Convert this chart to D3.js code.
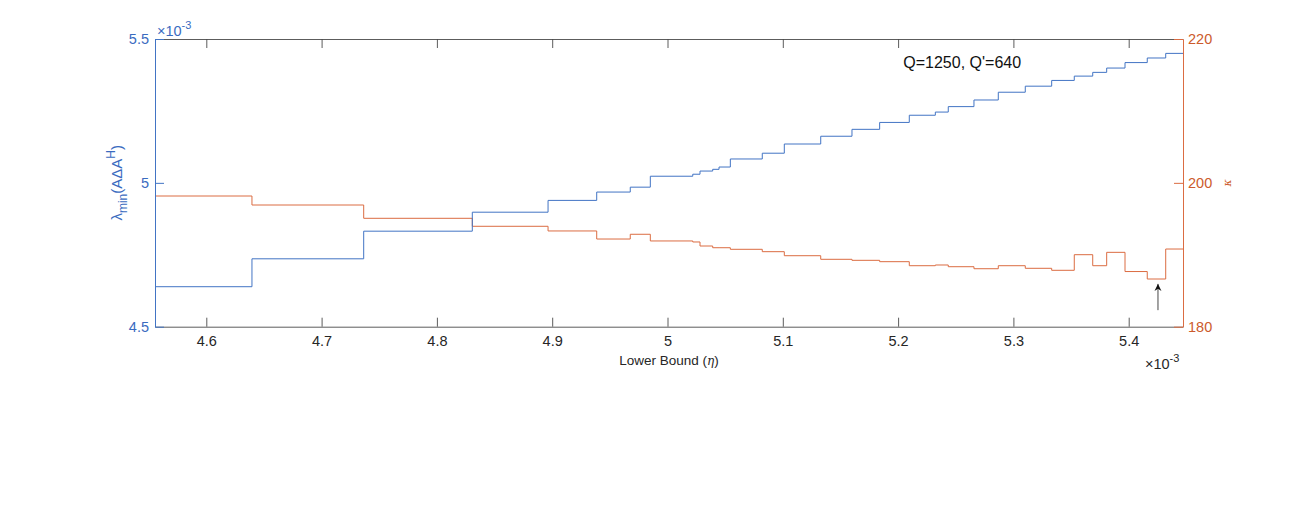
<!DOCTYPE html>
<html><head><meta charset="utf-8">
<script src="https://cdn.jsdelivr.net/npm/d3@7"></script>
<style>
html,body{margin:0;padding:0;background:#fff;}
svg{display:block;font-family:"Liberation Sans",Arial,Helvetica,sans-serif;}
</style></head>
<body><svg id="c" width="1295" height="510"></svg>
<script>
// ---- data (η in units of 1e-3) ----
const edges = [4.5555,4.6396,4.7365,4.8307,4.8964,4.9386,4.9677,4.9851,5.0219,5.0282,5.0392,5.0447,5.0545,5.0822,5.1013,5.1329,5.1600,5.1840,5.2097,5.2323,5.2435,5.2658,5.2869,5.3103,5.3332,5.3528,5.3688,5.3809,5.3968,5.4161,5.4321,5.4471];
const lambdaMin = [4.639,4.736,4.832,4.898,4.939,4.968,4.985,5.023,5.030,5.041,5.047,5.055,5.083,5.103,5.135,5.162,5.186,5.210,5.235,5.246,5.265,5.288,5.315,5.336,5.356,5.371,5.384,5.399,5.418,5.434,5.450];
const kappa = [198.17,196.92,195.07,193.96,193.31,192.19,192.85,191.92,191.78,191.22,190.98,190.98,190.76,190.43,189.87,189.37,189.23,189.04,188.48,188.58,188.34,188.06,188.48,188.12,187.84,190.01,188.48,190.34,187.67,186.63,190.80];
const xTicks = [4.6,4.7,4.8,4.9,5.0,5.1,5.2,5.3,5.4];
const xTickLabels = ["4.6","4.7","4.8","4.9","5","5.1","5.2","5.3","5.4"];
const yLeftTicks = [4.5,5.0,5.5];
const yLeftTickLabels = ["4.5","5","5.5"];
const yRightTicks = [180,200,220];
const yRightTickLabels = ["180","200","220"];
const annotationText = "Q=1250, Q'=640";
const arrowEta = [5.4254,5.4254];
const arrowKappa = [182.3,185.95];

// ---- layout ----
const W=1295,H=510;
const m={l:155,r:112,t:39,b:183.3};
const x0=m.l,x1=W-m.r,y0=m.t,y1=H-m.b;
const blue="#4274c4", blueText="#3a6bbf";
const orange="#db6c42", orangeText="#cc5b2c";
const axisGray="#4a4a4a";

const svg=d3.select("#c");
const x=d3.scaleLinear().domain([4.5555,5.4471]).range([x0,x1]);
const yL=d3.scaleLinear().domain([4.5,5.5]).range([y1,y0]);
const yR=d3.scaleLinear().domain([180,220]).range([y1,y0]);

function stairs(vals){
  const pts=vals.map((v,i)=>[edges[i],v]);
  pts.push([edges[edges.length-1],vals[vals.length-1]]);
  return pts;
}

// lines
svg.append("path").datum(stairs(kappa))
  .attr("fill","none").attr("stroke",orange).attr("stroke-width",1)
  .attr("d",d3.line().x(d=>x(d[0])).y(d=>yR(d[1])).curve(d3.curveStepAfter));
svg.append("path").datum(stairs(lambdaMin))
  .attr("fill","none").attr("stroke",blue).attr("stroke-width",1)
  .attr("d",d3.line().x(d=>x(d[0])).y(d=>yL(d[1])).curve(d3.curveStepAfter));

// axes
const fs=14.5;
const ff="Liberation Sans, Arial, sans-serif";
const xb=svg.append("g").attr("transform",`translate(0,${y1})`)
  .call(d3.axisBottom(x).tickValues(xTicks).tickSizeInner(-9).tickSizeOuter(0).tickPadding(9).tickFormat((d,i)=>xTickLabels[i]));
const xt=svg.append("g").attr("transform",`translate(0,${y0})`)
  .call(d3.axisTop(x).tickValues(xTicks).tickSizeInner(-9).tickSizeOuter(0).tickFormat(""));
[xb,xt].forEach(g=>{g.select(".domain").attr("stroke",axisGray).attr("stroke-width",0.9);
  g.selectAll(".tick line").attr("stroke",axisGray).attr("stroke-width",0.9);});
xb.selectAll(".tick text").attr("font-size",fs).attr("fill","#262626").attr("font-family",ff);

const yl=svg.append("g").attr("transform",`translate(${x0},0)`)
  .call(d3.axisLeft(yL).tickValues(yLeftTicks).tickSizeInner(-9).tickSizeOuter(0).tickPadding(6).tickFormat((d,i)=>yLeftTickLabels[i]));
yl.select(".domain").attr("stroke",blue).attr("stroke-width",1);
yl.selectAll(".tick line").attr("stroke",blue);
yl.selectAll(".tick text").attr("font-size",fs).attr("fill",blueText).attr("font-family",ff);

const yr=svg.append("g").attr("transform",`translate(${x1},0)`)
  .call(d3.axisRight(yR).tickValues(yRightTicks).tickSizeInner(-9).tickSizeOuter(0).tickPadding(5).tickFormat((d,i)=>yRightTickLabels[i]));
yr.select(".domain").attr("stroke",orange).attr("stroke-width",1);
yr.selectAll(".tick line").attr("stroke",orange);
yr.selectAll(".tick text").attr("font-size",fs).attr("fill",orangeText).attr("font-family",ff);

// exponent labels
function expLabel(px,py,color){
  const t=svg.append("text").attr("x",px).attr("y",py).attr("font-size",14.5).attr("fill",color);
  t.append("tspan").text("\u00d710");
  t.append("tspan").attr("dy",-7).attr("font-size",11).text("-3");
}
expLabel(x0+2,y0-3,blueText);
expLabel(x1-38,y1+42,"#262626");

// axis labels
svg.append("text").attr("x",(x0+x1)/2).attr("y",y1+38).attr("text-anchor","middle")
  .attr("font-size",13.5).attr("fill","#262626")
  .call(t=>{t.append("tspan").text("Lower Bound (");
    t.append("tspan").attr("font-style","italic").attr("font-family","DejaVu Serif, serif").attr("font-size",12).text("\u03b7");
    t.append("tspan").text(")");});

const ylab=svg.append("text").attr("transform",`translate(${x0-33},${(y0+y1)/2}) rotate(-90)`)
  .attr("text-anchor","middle").attr("font-size",15).attr("fill",blueText);
ylab.append("tspan").text("\u03bb");
ylab.append("tspan").attr("font-size",12).attr("dy",5).text("min");
ylab.append("tspan").attr("dy",-5).text("(A\u0394A");
ylab.append("tspan").attr("font-size",12).attr("dy",-7).text("H");
ylab.append("tspan").attr("dy",7).text(")");

svg.append("text").attr("transform",`translate(${x1+48},${(y0+y1)/2}) rotate(-90)`)
  .attr("text-anchor","middle").attr("font-size",11).attr("fill",orangeText)
  .attr("font-style","italic").attr("font-family","DejaVu Serif, serif").text("\u03ba");

// annotation
svg.append("text").attr("x",x(5.2097)-6).attr("y",y0+29).attr("font-size",16).attr("fill","#111")
  .text(annotationText);

svg.append("defs").append("marker").attr("id","ah").attr("viewBox","0 0 10 10")
  .attr("refX",10).attr("refY",5).attr("markerWidth",7).attr("markerHeight",9)
  .attr("markerUnits","userSpaceOnUse").attr("orient","auto")
  .append("path").attr("d","M0,0 L10,5 L0,10 L3,5 Z").attr("fill","#111");
svg.append("line")
  .attr("x1",x(arrowEta[0])).attr("y1",yR(arrowKappa[0]))
  .attr("x2",x(arrowEta[1])).attr("y2",yR(arrowKappa[1]))
  .attr("stroke","#333").attr("stroke-width",0.9).attr("marker-end","url(#ah)");
</script></body></html>
